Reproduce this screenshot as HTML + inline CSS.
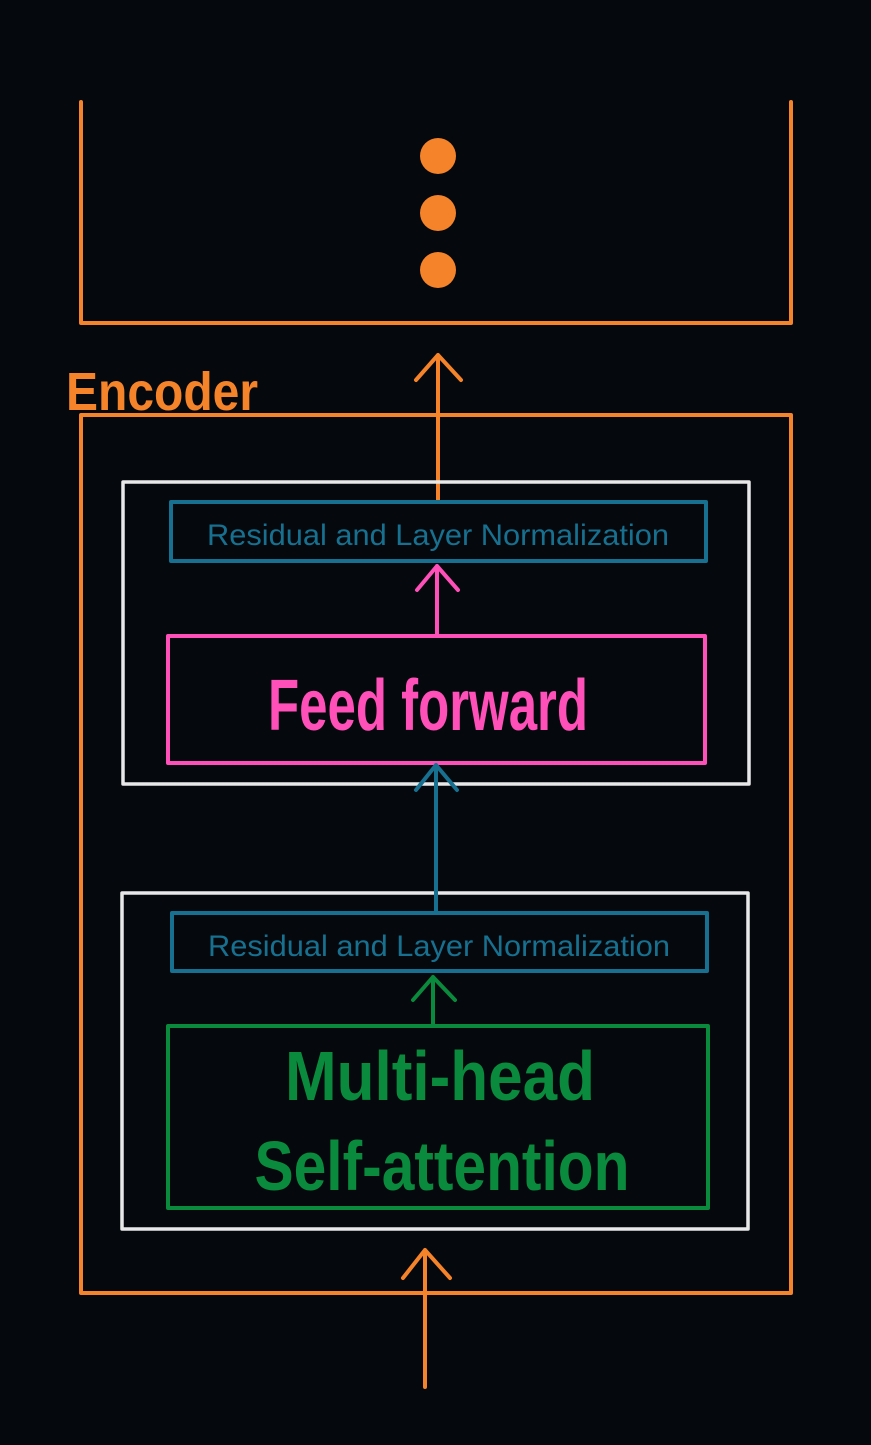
<!DOCTYPE html>
<html><head><meta charset="utf-8"><style>
html,body{margin:0;padding:0;background:#05080c;}
svg{display:block}
text{font-family:"Liberation Sans",sans-serif;}
</style></head><body>
<svg width="871" height="1445" viewBox="0 0 871 1445" xmlns="http://www.w3.org/2000/svg">
<rect width="871" height="1445" fill="#05080c"/>
<g fill="none" stroke-linecap="round" stroke-linejoin="round">
<!-- top open box -->
<path d="M81 102 V323 H791 V102" stroke="#f5832a" stroke-width="4"/>
<!-- encoder box -->
<rect x="81" y="415" width="710" height="878" stroke="#f5832a" stroke-width="4"/>
<!-- arrow to top -->
<path d="M438 500 V355 M416 380 L438 355 L461 380" stroke="#f5832a" stroke-width="4"/>
<!-- white boxes -->
<rect x="123" y="482" width="626" height="302" stroke="#e8e8e8" stroke-width="3.5"/>
<rect x="122" y="893" width="626" height="336" stroke="#e8e8e8" stroke-width="3.5"/>
<!-- blue boxes -->
<rect x="171" y="502" width="535" height="59" stroke="#17708f" stroke-width="4"/>
<rect x="172" y="913" width="535" height="58" stroke="#17708f" stroke-width="4"/>
<!-- pink arrow -->
<path d="M437 634 V566 M417 590 L437 566 L458 590" stroke="#ff4fb8" stroke-width="4"/>
<rect x="168" y="636" width="537" height="127" stroke="#ff4fb8" stroke-width="4"/>
<!-- blue arrow -->
<path d="M436 912 V765 M416 790 L436 765 L457 790" stroke="#17708f" stroke-width="4"/>
<!-- green arrow -->
<path d="M433 1024 V977 M413 1000 L433 977 L455 1000" stroke="#0a8a3c" stroke-width="4"/>
<rect x="168" y="1026" width="540" height="182" stroke="#0a8a3c" stroke-width="4"/>
<!-- bottom arrow -->
<path d="M425 1387 V1250 M403 1278 L425 1250 L450 1278" stroke="#f5832a" stroke-width="4"/>
</g>
<circle cx="438" cy="156" r="18" fill="#f5832a"/>
<circle cx="438" cy="213" r="18" fill="#f5832a"/>
<circle cx="438" cy="270" r="18" fill="#f5832a"/>
<text x="66" y="410" font-size="54" font-weight="bold" fill="#f5832a" textLength="192" lengthAdjust="spacingAndGlyphs">Encoder</text>
<text x="438" y="545" font-size="30" fill="#17708f" text-anchor="middle" textLength="462" lengthAdjust="spacingAndGlyphs">Residual and Layer Normalization</text>
<text x="439" y="956" font-size="30" fill="#17708f" text-anchor="middle" textLength="462" lengthAdjust="spacingAndGlyphs">Residual and Layer Normalization</text>
<text x="428" y="730" font-size="72" font-weight="bold" fill="#ff4fb8" text-anchor="middle" textLength="320" lengthAdjust="spacingAndGlyphs">Feed forward</text>
<text x="440" y="1100" font-size="70" font-weight="bold" fill="#0a8a3c" text-anchor="middle" textLength="310" lengthAdjust="spacingAndGlyphs">Multi-head</text>
<text x="442" y="1190" font-size="70" font-weight="bold" fill="#0a8a3c" text-anchor="middle" textLength="375" lengthAdjust="spacingAndGlyphs">Self-attention</text>
</svg>
</body></html>
